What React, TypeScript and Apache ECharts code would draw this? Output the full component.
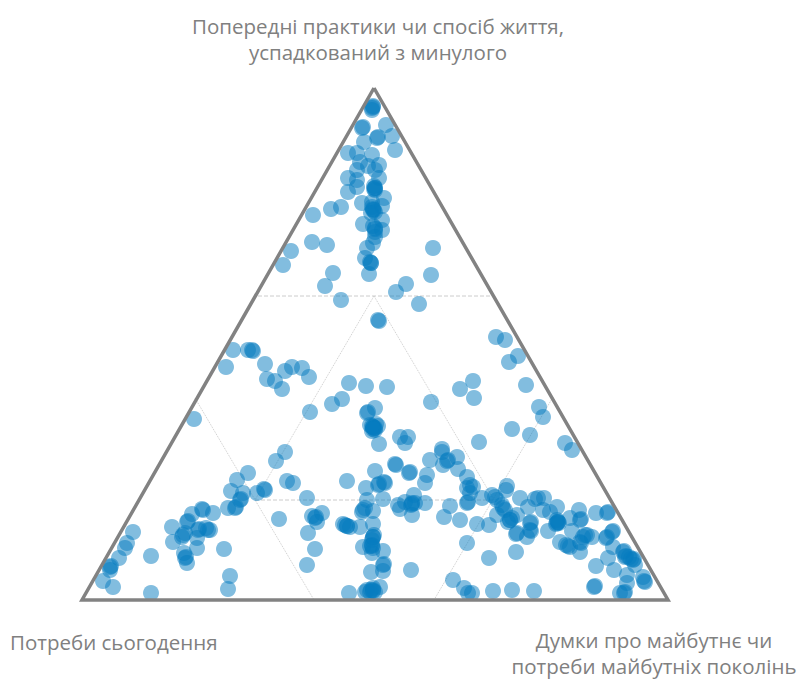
import React, { useEffect, useRef } from "react";
import * as echarts from "echarts";

type P = [number, number];

const labelTopLines = ["Попередні практики чи спосіб життя,", "успадкований з минулого"];
const labelLeft = "Потреби сьогодення";
const labelRightLines = ["Думки про майбутнє чи", "потреби майбутніх поколінь"];

const triangle: P[] = [[374, 88], [668, 600], [82, 600], [374, 88]];
const dashedGuides: P[][] = [
  [[258, 296], [494, 296]],
  [[255, 500], [494, 500]],
];
const dottedGuides: P[][] = [
  [[195, 398], [314, 600]],
  [[553, 397], [434, 600]],
  [[374, 296], [255, 500]],
  [[374, 296], [494, 500]],
];

const topCluster: P[] = [
  [373, 107], [372, 110], [373, 106], [363, 127], [362, 128], [386, 125], [378, 137], [377, 138], [392, 136],
  [364, 142], [395, 150], [348, 153], [357, 153], [372, 155], [360, 162], [368, 166], [379, 165], [375, 170],
  [357, 170], [348, 178], [357, 180], [379, 178], [375, 188], [375, 190], [374, 186], [348, 192], [357, 187],
  [384, 198], [362, 203], [372, 202], [373, 210], [372, 207], [375, 212], [371, 213], [382, 206], [341, 207],
  [331, 209], [313, 215], [382, 220], [363, 224], [375, 228], [375, 232], [373, 226], [382, 230], [373, 243],
  [367, 248], [375, 237], [312, 242], [327, 245], [291, 251], [283, 265], [433, 248], [431, 275], [365, 258],
  [371, 263], [370, 262], [369, 274], [333, 273], [325, 286], [406, 284], [396, 292], [341, 300], [419, 304],
];

const middleLeft: P[] = [
  [379, 321], [378, 320], [233, 350], [248, 350], [253, 351], [252, 350], [226, 367], [265, 364], [292, 367],
  [285, 371], [302, 368], [267, 379], [275, 381], [282, 389], [309, 377], [349, 383], [366, 386], [387, 387],
  [342, 399], [332, 404], [310, 412], [375, 408], [367, 413], [368, 412], [194, 419], [370, 425], [375, 430],
  [373, 427], [378, 426], [372, 431], [376, 424], [379, 444], [285, 452], [276, 461],
];

const middleRight: P[] = [
  [496, 337], [505, 340], [518, 356], [509, 362], [460, 389], [473, 381], [474, 398], [431, 402], [526, 385],
  [539, 407], [543, 417], [512, 429], [530, 435], [479, 442], [565, 443], [572, 450], [400, 437], [408, 437],
  [405, 443], [442, 449],
];

const lowerLeft: P[] = [
  [248, 473], [237, 480], [231, 491], [243, 493], [240, 500], [241, 499], [257, 493], [264, 489], [265, 490],
  [228, 508], [235, 508], [236, 507], [202, 509], [203, 510], [213, 513], [192, 514], [187, 522], [188, 521],
  [172, 527], [208, 530], [210, 530], [206, 528], [198, 530], [199, 529], [183, 535], [185, 533], [182, 537],
  [173, 542], [197, 538], [197, 548], [224, 549], [184, 553], [185, 558], [186, 557], [187, 563], [133, 532],
  [127, 543], [125, 548], [119, 558], [151, 556], [110, 567], [111, 566], [110, 570], [103, 581], [113, 587],
  [151, 593], [230, 576], [228, 589],
];

const lowerCenter: P[] = [
  [287, 481], [293, 483], [307, 498], [347, 481], [375, 471], [395, 464], [396, 465], [409, 473], [410, 472],
  [427, 475], [425, 483], [430, 460], [443, 465], [448, 460], [447, 461], [457, 457], [442, 452], [458, 469],
  [385, 483], [384, 482], [378, 485], [379, 484], [366, 488], [383, 499], [367, 500], [363, 510], [362, 512],
  [365, 508], [373, 511], [279, 519], [315, 518], [316, 517], [312, 516], [322, 513], [317, 522], [308, 533],
  [315, 549], [307, 565], [345, 525], [347, 526], [343, 524], [350, 527], [360, 527], [373, 524], [373, 537],
  [372, 540], [374, 535], [363, 547], [372, 545], [373, 548], [370, 546], [383, 551], [372, 553], [383, 565],
  [384, 564], [383, 571], [371, 572], [411, 570], [349, 593], [367, 590], [373, 588], [380, 587], [370, 592],
  [365, 592], [375, 592],
];

const lowerMiddleRight: P[] = [
  [398, 505], [400, 509], [414, 495], [405, 502], [412, 503], [411, 505], [415, 503], [412, 515], [425, 503],
  [450, 506], [444, 517], [460, 520], [467, 488], [470, 485], [467, 503], [468, 502], [470, 493], [467, 477],
  [467, 543], [453, 580], [464, 588], [468, 593], [472, 593],
];

const lowerRight: P[] = [
  [507, 486], [506, 490], [520, 498], [495, 497], [497, 500], [492, 495], [482, 498], [473, 487], [477, 524],
  [489, 525], [489, 558], [516, 552], [503, 508], [505, 510], [502, 505], [497, 515], [510, 520], [512, 518],
  [508, 522], [517, 515], [528, 507], [538, 498], [535, 499], [544, 498], [530, 523], [531, 522], [530, 530],
  [531, 531], [516, 534], [517, 533], [527, 537], [543, 510], [550, 512], [557, 507], [558, 522], [557, 520],
  [559, 523], [556, 524], [548, 531], [570, 518], [579, 510], [580, 520], [581, 519], [572, 531], [560, 542],
  [568, 546], [570, 547], [566, 545], [580, 542], [581, 543], [580, 552], [585, 535], [583, 537], [587, 535],
  [592, 537], [596, 513], [607, 513], [608, 512], [612, 532], [613, 531], [606, 538], [607, 537], [613, 547],
  [608, 558], [596, 566], [614, 570], [623, 552], [624, 551], [625, 557], [626, 556], [633, 560], [634, 559],
  [635, 565], [627, 575], [643, 577], [645, 582], [644, 581], [627, 583], [594, 587], [595, 586], [493, 591],
  [512, 590], [534, 591], [620, 593], [624, 593], [625, 592],
];

// answers stacked on almost the same spot, which show as the darkest patches
const denseSpots: P[] = [
  [373, 427], [374, 428], [372, 426], [375, 428], [373, 429], [374, 210], [373, 209], [375, 188], [374, 189],
  [375, 229], [371, 263], [372, 108], [412, 504], [558, 522], [557, 523], [373, 590], [371, 590], [373, 591],
  [372, 546], [373, 537], [347, 526], [510, 520], [631, 559], [629, 557],
];

const groups: P[][] = [topCluster, middleLeft, middleRight, lowerLeft, lowerCenter, lowerMiddleRight, lowerRight, denseSpots];

const textColor = "#808080";
const labelFont = '"Open Sans", "Noto Sans", sans-serif';

export default function App() {
  const ref = useRef<HTMLDivElement>(null);
  useEffect(() => {
    if (!ref.current) return;
    const chart = echarts.init(ref.current, undefined, { renderer: "svg" });
    const guide = (data: P[], type: string, color: string) => ({
      type: "line",
      data,
      symbol: "none",
      silent: true,
      z: 1,
      lineStyle: { color, width: 1, type },
    });
    const text = (x: number, y: number, t: string, align: string) => ({
      type: "text",
      x,
      y,
      silent: true,
      style: {
        text: t,
        fill: textColor,
        font: `20.5px ${labelFont}`,
        textAlign: align,
        textVerticalAlign: "middle",
      },
    });
    chart.setOption({
      animation: false,
      backgroundColor: "#fff",
      grid: { left: 0, top: 0, width: 800, height: 680 },
      xAxis: { type: "value", min: 0, max: 800, show: false },
      yAxis: { type: "value", min: 0, max: 680, inverse: true, show: false },
      series: [
        ...dashedGuides.map((g) => guide(g, "dashed", "#cccccc")),
        ...dottedGuides.map((g) => guide(g, "dotted", "#cccccc")),
        {
          type: "scatter",
          data: groups.flat(),
          symbol: "circle",
          symbolSize: 16,
          z: 2,
          itemStyle: { color: "#067cc0", opacity: 0.5 },
        },
        {
          type: "line",
          data: triangle,
          symbol: "none",
          silent: true,
          z: 3,
          lineStyle: { color: "#828282", width: 3.5, join: "miter" },
        },
      ],
      graphic: {
        elements: [
          text(378, 26, labelTopLines[0], "center"),
          text(378, 52, labelTopLines[1], "center"),
          text(10, 642, labelLeft, "left"),
          text(654, 640, labelRightLines[0], "center"),
          text(654, 666, labelRightLines[1], "center"),
        ],
      },
    });
    return () => chart.dispose();
  }, []);
  return <div ref={ref} style={{ position: "absolute", left: 0, top: 0, width: 800, height: 680 }} />;
}
